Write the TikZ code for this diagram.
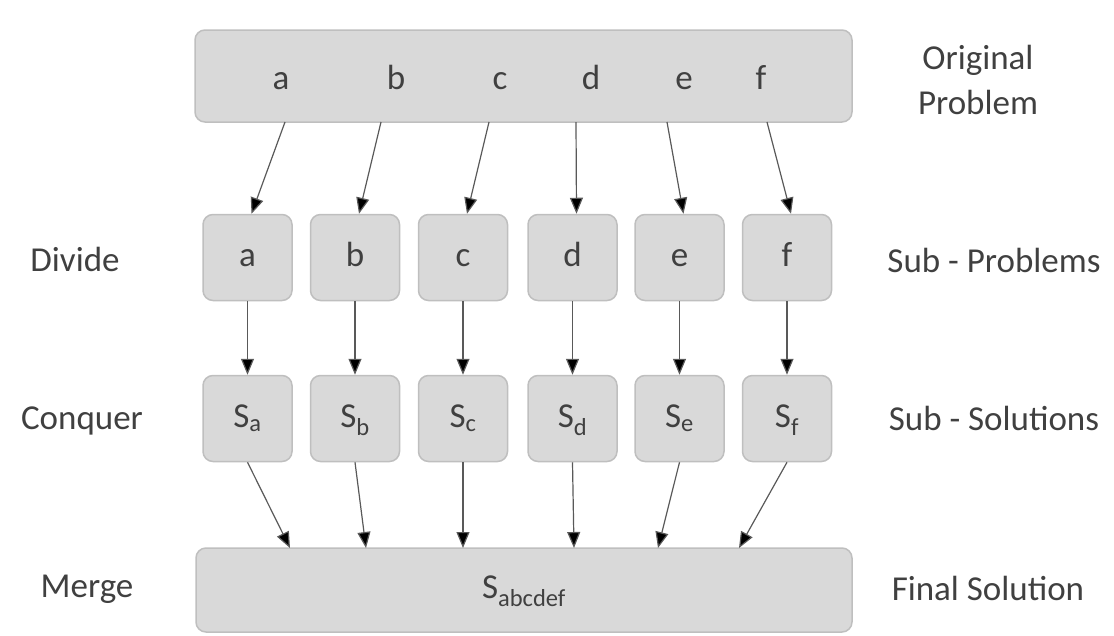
\documentclass[tikz,border=0pt]{standalone}
\usepackage{fontspec}
\setmainfont{Carlito}
\usetikzlibrary{arrows.meta}
\definecolor{boxfill}{HTML}{D9D9D9}
\definecolor{boxline}{HTML}{BFBFBF}
\definecolor{txt}{HTML}{404040}
\definecolor{arr}{HTML}{595959}
\tikzset{
  bigbox/.style={draw=boxline, fill=boxfill, line width=1.5pt, rounded corners=10pt, inner sep=0pt},
  smallbox/.style={bigbox, minimum width=89pt, minimum height=86pt, font=\fontsize{35}{42}\selectfont, text=txt, text height=24pt, text depth=6pt},
  lbl/.style={font=\fontsize{35}{45}\selectfont, text=txt, inner sep=0pt},
  letter/.style={lbl, text height=24pt, text depth=6pt},
  conn/.style={draw=arr, line width=1.2pt, -{Triangle[length=16pt,width=13pt,fill=black]}}
}
\begin{document}
\begin{tikzpicture}[x=1pt,y=-1pt]
\useasboundingbox (0,0) rectangle (1114,635);
% top box
\node[bigbox, minimum width=657pt, minimum height=92pt] (top) at (523.5,76) {};
\foreach \n/\x in {a/281,b/396,c/500,d/591,e/684,f/761}{
  \node[letter] (t\n) at (\x,80) {\n};
}
% sub-problem and sub-solution boxes
\foreach \n/\x in {a/247.5,b/355,c/463,d/572.5,e/679.5,f/787}{
  \node[smallbox] (p\n) at (\x,257.5) {\n};
  \node[smallbox] (s\n) at (\x,418.5) {S\textsubscript{\n}};
}
% merge box
\node[bigbox, minimum width=656pt, minimum height=84pt, font=\fontsize{35}{42}\selectfont, text=txt, text height=24pt, text depth=8pt] (merge) at (524,590) {S\textsubscript{abcdef}};
% labels
\node[letter] (ldiv) at (75,262) {Divide};
\node[letter] (lcon) at (82,420) {Conquer};
\node[letter] (lmer) at (87,588) {Merge};
\node[lbl, align=center] (rorig) at (978,80) {Original\\Problem};
\node[letter] (rsp) at (994,263) {Sub - Problems};
\node[letter] (rss) at (994,421) {Sub - Solutions};
\node[letter] (rfs) at (988,591) {Final Solution};
% arrows top -> sub-problems
\foreach \n/\x in {a/285,b/381,c/489,d/576,e/667,f/767}{
  \coordinate (o\n) at (\x,122);
  \draw[conn] (o\n) -- ([xshift=4pt]p\n.north);
}
% sub-problems -> sub-solutions
\foreach \n in {a,b,c,d,e,f}{
  \draw[conn] (p\n.south) -- (s\n.north);
}
% sub-solutions -> merge
\foreach \n/\x in {a/290,b/366,c/463,d/574,e/658,f/739}{
  \coordinate (m\n) at (\x,548);
  \draw[conn] (s\n.south) -- (m\n);
}
\end{tikzpicture}
\end{document}
